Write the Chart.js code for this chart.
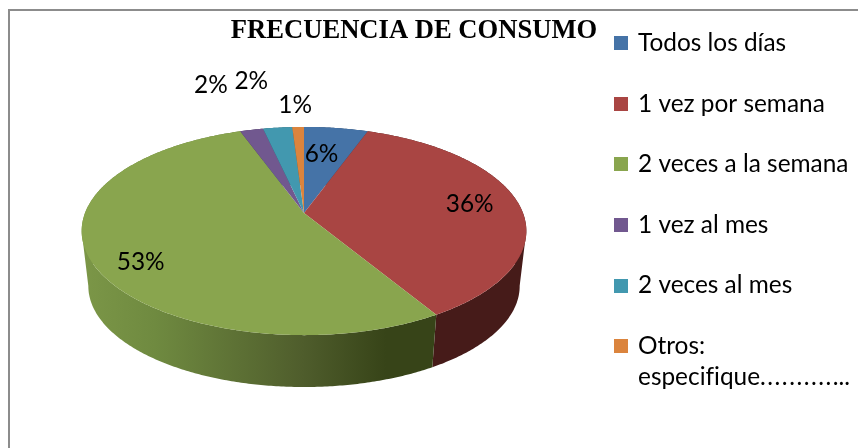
<!DOCTYPE html>
<html><head><meta charset="utf-8">
<style>html,body{margin:0;padding:0;background:#fff;overflow:hidden}
#f{position:absolute;left:8px;top:9px;width:860px;height:450px;border-left:2px solid #8c8c8c;border-top:2px solid #8c8c8c}
canvas{position:absolute;left:0;top:0}</style>
<script src="https://cdn.jsdelivr.net/npm/chart.js@4"></script></head>
<body><div id="f"></div><canvas id="c" width="858" height="448"></canvas>
<script>
const categories = ['Todos los días','1 vez por semana','2 veces a la semana','1 vez al mes','2 veces al mes',['Otros:','especif\u200Cique.\u200A.\u200A.\u200A.\u200A.\u200A.\u200A.\u200A.\u200A.\u200A.\u200A...']];
const values = [5.5,35.9,53.1,2.0,2.5,1.0];
const percentLabels = ['6%','36%','53%','2%','2%','1%'];
const colors = ['#4573a7','#a94543','#89a54e','#71588f','#4298af','#db843d'];
const sideColors = ['#2a4566','#461b19','#536430','#453557','#285c6a','#854f25'];

const TEXT_FONT = 'Lato';
const geo = {cx:304,cy:213,A:219,a:101,k:-0.173};
const wall = {sx:0.97,midY:232,drop:55};
const labelPlace = [
 {r:0.7,dx:-6,dy:3},{r:0.77,dx:0,dy:-1},{r:0.8,dx:5,dy:12},
 {r:1.2,dx:-32,dy:-31},{r:1.2,dx:-22,dy:-32},{r:1.2,dx:-2,dy:-8}];

function proj(t,r){
  const u=r*Math.sin(t), v=-r*Math.cos(t), w=1+geo.k*v;
  return [geo.cx+geo.A*u/w, geo.cy+geo.a*v/w];
}
function low(p){
  return [geo.cx+(p[0]-geo.cx)*wall.sx, wall.midY+(p[1]-wall.midY)*wall.sx+wall.drop];
}
function rim(a0,a1){
  const n=Math.max(2,Math.ceil((a1-a0)/0.01)), pts=[];
  for(let i=0;i<=n;i++) pts.push(proj(a0+(a1-a0)*i/n,1));
  return pts;
}
function swatch(color){
  const s=document.createElement('canvas'); s.width=14; s.height=14;
  const g=s.getContext('2d'); g.fillStyle=color; g.fillRect(0,0,14,14);
  return s;
}
const pie3d = {
  id:'pie3d',
  afterLayout(chart){
    const l=chart.legend, p=l.options.labels.padding;
    l.left=617-p; l.right=858; l.top=31-p; l.bottom=448;
    chart.titleBlock.top=15;
  },
  beforeDatasetsDraw(chart){
    const ctx=chart.ctx, arcs=chart.getDatasetMeta(0).data;
    const ang=e=>[e.startAngle+Math.PI/2,e.endAngle+Math.PI/2];
    arcs.forEach((e,i)=>{
      const [a0,a1]=ang(e), top=rim(a0,a1);
      let fill=sideColors[i];
      if(i===2){
        const g=ctx.createLinearGradient(85,0,435,0);
        g.addColorStop(0,'#7b9647');g.addColorStop(0.2,'#6f8a40');g.addColorStop(0.62,'#4f5d2c');g.addColorStop(0.86,'#374418');g.addColorStop(1,'#374418');
        fill=g;
      }
      ctx.fillStyle=fill;
      ctx.beginPath();
      for(let j=0;j<top.length-1;j++){
        const p=top[j], q=top[j+1];
        let b=low(q), c=low(p), s=p, t=q;
        if(q[0]<p[0]){ s=q; t=p; const x=b; b=c; c=x; }
        ctx.moveTo(s[0],s[1]); ctx.lineTo(t[0],t[1]); ctx.lineTo(b[0],b[1]); ctx.lineTo(c[0],c[1]); ctx.closePath();
      }
      ctx.fill('nonzero');
    });
    arcs.forEach((e,i)=>{
      const [a0,a1]=ang(e), pts=rim(a0,a1);
      ctx.beginPath(); ctx.moveTo(geo.cx,geo.cy);
      pts.forEach(p=>ctx.lineTo(p[0],p[1]));
      ctx.closePath(); ctx.fillStyle=colors[i]; ctx.fill();
    });
    ctx.save();
    ctx.fillStyle='#000'; ctx.font='24.4px '+TEXT_FONT; ctx.textAlign='center'; ctx.textBaseline='middle';
    arcs.forEach((e,i)=>{
      const [a0,a1]=ang(e), q=labelPlace[i], p=proj((a0+a1)/2,q.r);
      ctx.fillText(percentLabels[i],p[0]+q.dx,p[1]+q.dy);
    });
    ctx.restore();
    return false;
  }
};
new Chart(document.getElementById('c'),{
  type:'pie',
  data:{labels:categories,datasets:[{data:values,backgroundColor:colors,borderWidth:0}]},
  plugins:[pie3d],
  options:{
    responsive:false,animation:false,
    layout:{padding:{right:30}},
    plugins:{
      tooltip:{enabled:false},
      title:{display:true,text:'FRECUENCIA DE CONSUMO',color:'#000',align:'center',padding:0,
        font:{family:'Liberation Serif',size:26.6,weight:'bold'}},
      legend:{position:'right',align:'start',
        labels:{color:'#000',font:{family:TEXT_FONT,size:24.4,lineHeight:1.25},padding:36.2,
          usePointStyle:true,pointStyleWidth:8.8,boxHeight:14,
          generateLabels(chart){
            return chart.data.labels.map((t,i)=>({text:t,fillStyle:colors[i],strokeStyle:colors[i],lineWidth:0,
              pointStyle:swatch(colors[i]),index:i,hidden:false}));
          }}}
    }
  }
});
</script></body></html>
